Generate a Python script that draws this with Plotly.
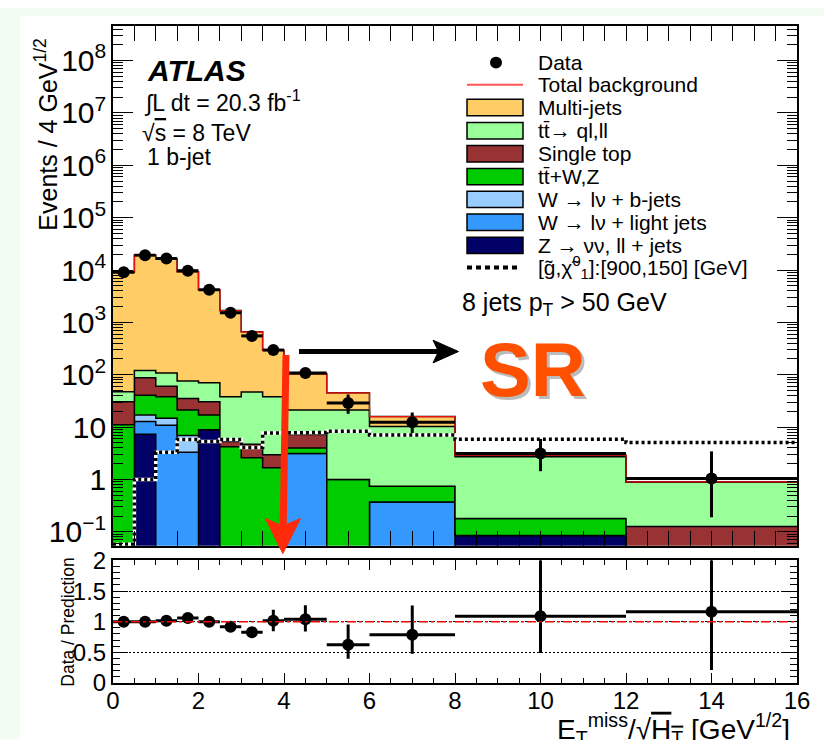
import math
import plotly.graph_objects as go

# ---------------------------------------------------------------- data
edges = [0, 0.5, 1, 1.5, 2, 2.5, 3, 3.5, 4, 5, 6, 8, 12, 16]

# background components, bottom of the stack first
z_jets = [0, 7.3, 0, 0, 8.9, 0, 0, 0, 0, 0, 0, 0.084, 0]
w_light = [0, 5.5, 10.9, 3.3, 0, 0, 0, 0, 3.14, 0, 0.37, 0, 0]
w_bjets = [0, 4.3, 3.9, 3.6, 0, 0, 0, 0, 0, 0, 0, 0, 0]
ttbar_v = [11.1, 23.6, 23.1, 14.3, 8.2, 4.2, 2.6, 1.68, 0.86, 1.0, 0.37, 0.095, 0]
single_top = [19.4, 47.3, 22.2, 14.1, 13.4, 1.1, 2.1, 1.3, 3.2, 0, 0, 0, 0.126]
ttbar = [16.6, 32.7, 47.5, 40.7, 40.2, 32.6, 42.3, 34.9, 14.0, 20.2, 9.56, 2.54, 0.77]
multijet = [9010, 19080, 16290, 9220, 4130, 1640, 613, 255, 83, 24, 5.6, 0.18, 0.0]

# signal point [gluino, neutralino] = [900, 150] GeV
signal = [0.058, 1.0, 3.3, 5.8, 5.3, 5.8, 4.1, 7.7, 7.9, 8.3, 7.1, 5.85, 5.06]

# observed data with asymmetric uncertainties
data = [9060, 19200, 16600, 9700, 4200, 1525, 552, 296, 108, 29, 12.4, 3.14, 1.04]
data_up = [95, 140, 130, 100, 65, 40, 25, 50, 22, 13, 6.6, 2.8, 2.4]
data_dn = [95, 140, 130, 100, 65, 40, 25, 50, 22, 11, 4.7, 1.7, 0.85]

# data / prediction
ratio = [1.0, 1.0, 1.015, 1.06, 1.0, 0.92, 0.83, 1.015, 1.04, 0.626, 0.787, 1.09, 1.163]
ratio_up = [0.012, 0.008, 0.009, 0.012, 0.016, 0.03, 0.05, 0.18, 0.23, 0.33, 0.48, 1.0, 2.7]
ratio_dn = [0.012, 0.008, 0.009, 0.012, 0.016, 0.03, 0.05, 0.17, 0.20, 0.23, 0.31, 0.60, 0.95]

x_ticks = [0, 2, 4, 6, 8, 10, 12, 14, 16]

# ---------------------------------------------------------------- helpers
FONT = "Liberation Sans, Arial, Helvetica, sans-serif"
W, H = 824, 740
ML, MR, MT, MB = 113, 27, 18, 57
PW, PH = W - ML - MR, H - MT - MB
Y_RANGE = [-1.264, 8.66]


def fx(p):
    return (p - ML) / PW


def fy(p):
    return (H - MB - p) / PH


def step(vals):
    xs, ys = [], []
    for i, v in enumerate(vals):
        xs += [edges[i], edges[i + 1]]
        ys += [v, v]
    return xs, ys


centers = [(edges[i] + edges[i + 1]) / 2 for i in range(len(edges) - 1)]
half_w = [(edges[i + 1] - edges[i]) / 2 for i in range(len(edges) - 1)]

# minor log ticks (2..9 in each decade)
minor_log = [k * 10.0 ** d for d in range(-2, 9) for k in range(2, 10)
             if Y_RANGE[0] <= math.log10(k * 10.0 ** d) <= Y_RANGE[1]]

components = [
    ("Z → νν, ll + jets", z_jets, "#000066"),
    ("W → lν + light jets", w_light, "#3399ff"),
    ("W → lν + b-jets", w_bjets, "#99ccff"),
    ("tt̄+W,Z", ttbar_v, "#00cc00"),
    ("Single top", single_top, "#993333"),
    ("tt̄→ ql,ll", ttbar, "#99ff99"),
    ("Multi-jets", multijet, "#ffcc66"),
]

FLOOR = 1e-3
fig = go.Figure()

# invisible floor the first stack layer fills up to
bx, by = step([FLOOR] * len(centers))
fig.add_trace(go.Scatter(x=bx, y=by, mode="lines", line=dict(width=0),
                         showlegend=False, hoverinfo="skip", xaxis="x", yaxis="y"))

running = [FLOOR] * len(centers)
for name, vals, col in components:
    running = [r + v for r, v in zip(running, vals)]
    sx, sy = step(running)
    fig.add_trace(go.Scatter(x=sx, y=sy, mode="lines", name=name,
                             line=dict(color="black", width=1.5),
                             fill="tonexty", fillcolor=col,
                             showlegend=False, xaxis="x", yaxis="y"))

# total background
tx, ty = step(running)
fig.add_trace(go.Scatter(x=tx, y=ty, mode="lines", name="Total background",
                         line=dict(color="#ee1111", width=1.2),
                         showlegend=False, xaxis="x", yaxis="y"))

# signal: white underlay + black dots
gx, gy = step(signal)
fig.add_trace(go.Scatter(x=gx, y=gy, mode="lines", line=dict(color="white", width=3.5),
                         showlegend=False, hoverinfo="skip", xaxis="x", yaxis="y"))
fig.add_trace(go.Scatter(x=gx, y=gy, mode="lines", name="signal",
                         line=dict(color="black", width=3.5, dash="3px,3px"),
                         showlegend=False, xaxis="x", yaxis="y"))

# data
fig.add_trace(go.Scatter(
    x=centers, y=data, mode="markers", name="Data",
    marker=dict(color="black", size=12),
    error_x=dict(type="data", array=half_w, thickness=3, width=0, color="black"),
    error_y=dict(type="data", array=data_up, arrayminus=data_dn, symmetric=False,
                 thickness=3, width=0, color="black"),
    showlegend=False, xaxis="x", yaxis="y"))

# ratio panel
fig.add_trace(go.Scatter(
    x=centers, y=ratio, mode="markers",
    marker=dict(color="black", size=12),
    error_x=dict(type="data", array=half_w, thickness=3, width=0, color="black"),
    error_y=dict(type="data", array=ratio_up, arrayminus=ratio_dn, symmetric=False,
                 thickness=3, width=0, color="black"),
    showlegend=False, xaxis="x2", yaxis="y2"))

# an empty trace so the minor-tick scale is drawn
fig.add_trace(go.Scatter(x=[None], y=[None], xaxis="x", yaxis="y3", showlegend=False,
                         hoverinfo="skip"))

axis_common = dict(showline=True, linecolor="black", linewidth=2, mirror="allticks",
                   ticks="inside", tickcolor="black", tickwidth=1.2,
                   tickfont=dict(family=FONT, size=24, color="black"),
                   zeroline=False)

shapes = []
annotations = []

# unity line in ratio panel
shapes.append(dict(type="line", xref="x2", yref="y2", x0=edges[0], x1=edges[-1], y0=1, y1=1,
                   line=dict(color="red", width=1.5, dash="dashdot")))

# page tint at the left/top edge
shapes.append(dict(type="rect", xref="paper", yref="paper", x0=fx(0), x1=fx(20), y0=fy(H), y1=fy(0),
                   fillcolor="#f3fcf3", line=dict(width=0), layer="below"))
shapes.append(dict(type="rect", xref="paper", yref="paper", x0=fx(0), x1=fx(W), y0=fy(8), y1=fy(0),
                   fillcolor="#f3fcf3", line=dict(width=0), layer="below"))

# legend
LX0, LX1, LTX = 467, 523, 536
rows = [55, 77.5, 100.5, 124, 147.3, 170.5, 193.5, 216.7, 240, 262.5]
legend_text = ["Data", "Total background", "Multi-jets", "tt̄→ ql,ll", "Single top",
               "tt̄+W,Z", "W → lν + b-jets", "W → lν + light jets", "Z → νν, ll + jets",
               "[g̃,χ̃<sup>0</sup><sub>1</sub>]:[900,150] [GeV]"]
shapes.append(dict(type="circle", xref="paper", yref="paper",
                   x0=fx(490), x1=fx(502), y0=fy(rows[0] + 6), y1=fy(rows[0] - 6),
                   fillcolor="black", line=dict(color="black", width=0)))
shapes.append(dict(type="line", xref="paper", yref="paper", x0=fx(LX0), x1=fx(LX1),
                   y0=fy(rows[1]), y1=fy(rows[1]), line=dict(color="#ff5555", width=2)))
legend_cols = ["#ffcc66", "#99ff99", "#993333", "#00cc00", "#99ccff", "#3399ff", "#000066"]
for r, c in zip(rows[2:9], legend_cols):
    shapes.append(dict(type="rect", xref="paper", yref="paper", x0=fx(LX0), x1=fx(LX1),
                       y0=fy(r + 8.3), y1=fy(r - 8.3), fillcolor=c,
                       line=dict(color="black", width=1.5)))
shapes.append(dict(type="line", xref="paper", yref="paper", x0=fx(LX0), x1=fx(LX1 - 2),
                   y0=fy(rows[9]), y1=fy(rows[9]),
                   line=dict(color="black", width=4, dash="5px,4px")))
for r, t in zip(rows, legend_text):
    annotations.append(dict(text=t, xref="paper", yref="paper", x=fx(LTX), y=fy(r),
                            xanchor="left", yanchor="middle", showarrow=False,
                            font=dict(family=FONT, size=21, color="black")))

annotations.append(dict(text="8 jets p<sub>T</sub> > 50 GeV", xref="paper", yref="paper",
                        x=fx(460), y=fy(299), xanchor="left", yanchor="middle", showarrow=False,
                        font=dict(family=FONT, size=25, color="black")))

# experiment labels
annotations.append(dict(text="<b><i>ATLAS</i></b>", xref="paper", yref="paper",
                        x=fx(145), y=fy(63), xanchor="left", yanchor="middle", showarrow=False,
                        font=dict(family=FONT, size=30, color="black")))
annotations.append(dict(text="∫L dt = 20.3 fb<sup>-1</sup>", xref="paper", yref="paper",
                        x=fx(142), y=fy(94), xanchor="left", yanchor="middle", showarrow=False,
                        font=dict(family=FONT, size=23, color="black")))
annotations.append(dict(text="√<span style='text-decoration:overline'>s</span> = 8 TeV",
                        xref="paper", yref="paper",
                        x=fx(140), y=fy(126), xanchor="left", yanchor="middle", showarrow=False,
                        font=dict(family=FONT, size=23, color="black")))
annotations.append(dict(text="1 b-jet", xref="paper", yref="paper",
                        x=fx(145), y=fy(151), xanchor="left", yanchor="middle", showarrow=False,
                        font=dict(family=FONT, size=23, color="black")))

# axis titles
annotations.append(dict(text="Events / 4 GeV<sup>1/2</sup>", xref="paper", yref="paper",
                        x=fx(46), y=fy(128), xanchor="center", yanchor="middle", textangle=-90,
                        showarrow=False, font=dict(family=FONT, size=25, color="black")))
annotations.append(dict(text="Data / Prediction", xref="paper", yref="paper",
                        x=fx(68), y=fy(622), xanchor="center", yanchor="middle", textangle=-90,
                        showarrow=False, font=dict(family=FONT, size=17.5, color="black")))
annotations.append(dict(
    text="E<sub>T</sub><sup>miss</sup>/√<span style='text-decoration:overline'>H<sub>T</sub></span> [GeV<sup>1/2</sup>]",
    xref="paper", yref="paper", x=fx(792), y=fy(730), xanchor="right", yanchor="middle",
    showarrow=False, font=dict(family=FONT, size=28, color="black")))

# signal-region marker
annotations.append(dict(text="<b>SR</b>", xref="paper", yref="paper", x=fx(536), y=fy(369),
                        xanchor="center", yanchor="middle", showarrow=False,
                        font=dict(family=FONT, size=76, color="rgba(60,60,60,0.35)")))
annotations.append(dict(text="<b>SR</b>", xref="paper", yref="paper", x=fx(533), y=fy(366),
                        xanchor="center", yanchor="middle", showarrow=False,
                        font=dict(family=FONT, size=76, color="#ff5000")))

# black horizontal arrow
shapes.append(dict(type="line", xref="paper", yref="paper", x0=fx(299), x1=fx(442),
                   y0=fy(347.5), y1=fy(347.5), line=dict(color="black", width=5)))
shapes.append(dict(type="path", xref="paper", yref="paper",
                   path=f"M {fx(458.5)} {fy(347.5)} L {fx(433)} {fy(336)} L {fx(438.5)} {fy(347.5)} "
                        f"L {fx(433)} {fy(359)} Z",
                   fillcolor="black", line=dict(color="black", width=1)))

# red vertical arrow
RED = "#ff2a0a"
shapes.append(dict(type="line", xref="paper", yref="paper", x0=fx(286), x1=fx(283.2),
                   y0=fy(351), y1=fy(525), line=dict(color=RED, width=7)))
shapes.append(dict(type="path", xref="paper", yref="paper",
                   path=f"M {fx(282.8)} {fy(552)} L {fx(265.5)} {fy(516.5)} L {fx(283)} {fy(524)} "
                        f"L {fx(300.5)} {fy(516.5)} Z",
                   fillcolor=RED, line=dict(color=RED, width=1)))

main_domain = [fy(544), 1]

fig.update_layout(
    width=W, height=H,
    margin=dict(l=ML, r=MR, t=MT, b=MB, pad=0),
    paper_bgcolor="white", plot_bgcolor="white",
    font=dict(family=FONT, color="black"),
    showlegend=False,
    xaxis=dict(domain=[0, 1], anchor="y", range=[0, 16], tickvals=x_ticks, showticklabels=False,
               ticklen=15, minor=dict(ticks="inside", dtick=0.5, ticklen=7, tickcolor="black"),
               **axis_common),
    yaxis=dict(domain=main_domain, anchor="x", type="log", range=Y_RANGE, dtick=1,
               exponentformat="power", ticklen=20, **axis_common),
    # secondary scale carrying the minor decade ticks
    yaxis3=dict(domain=main_domain, anchor="x", overlaying="y", type="log", range=Y_RANGE,
                tickvals=minor_log, showticklabels=False, ticks="inside", ticklen=10,
                tickcolor="black", tickwidth=1.2, mirror="allticks", showline=False,
                showgrid=False, zeroline=False),
    xaxis2=dict(domain=[0, 1], anchor="y2", range=[0, 16], tickvals=x_ticks,
                ticklen=10, ticklabelstandoff=-5,
                minor=dict(ticks="inside", dtick=0.5, ticklen=5, tickcolor="black"),
                **axis_common),
    yaxis2=dict(domain=[0, fy(559)], anchor="x2", range=[0, 2], dtick=0.5, ticklen=15,
                showgrid=True, gridcolor="black", gridwidth=1, griddash="2px,2px",
                minor=dict(ticks="inside", dtick=0.1, ticklen=7, tickcolor="black"),
                **axis_common),
    shapes=shapes,
    annotations=annotations,
)

fig.write_html("out.html")
